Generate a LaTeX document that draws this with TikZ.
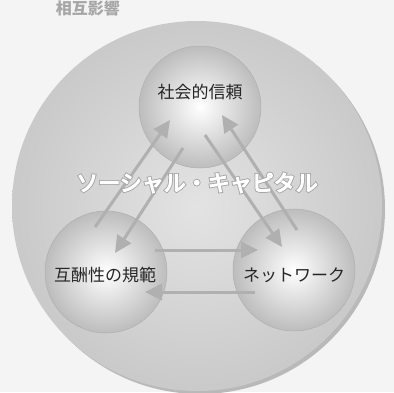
\documentclass[tikz,border=0pt]{standalone}
\usepackage{fontspec}
\setmainfont{Noto Sans CJK JP}
\newfontfamily\scoutlinefont[FakeBold=13]{Noto Sans CJK JP}
\newfontfamily\scfillfont[FakeBold=5]{Noto Sans CJK JP}
\usetikzlibrary{arrows.meta}
\begin{document}
\begin{tikzpicture}[x=1pt,y=-1pt,
  lbl/.style={font=\fontsize{17}{17}\selectfont, text=black!85, inner sep=0pt},
  sphere/.style={circle, minimum size=122pt, inner sep=0pt, shading=radial, inner color=white, outer color=gray!52, draw=gray!62, line width=0.5pt},
  arr/.style={draw=gray!62, line width=3pt, -{Triangle[length=17pt,width=16pt]}},
  titleout/.style={font=\scoutlinefont\fontsize{22}{22}\selectfont, inner sep=0pt, text=gray!70},
  titlefill/.style={font=\scfillfont\fontsize{22}{22}\selectfont, inner sep=0pt, text=white}]
\useasboundingbox (0,0) rectangle (394,392);
\clip (0,0) rectangle (394,392);
\fill[gray!9] (0,0) rectangle (394,392);
\node[font=\fontsize{16}{16}\selectfont\bfseries, text=gray!70, inner sep=0pt] (toptxt) at (88,8) {相互影響};
% big circle with shadow
\fill[gray!55] (200,209) circle (185pt);
\shade[inner color=gray!22, outer color=gray!42] (197,206) circle (185pt);
% spheres
\node[sphere] (trust) at (200,107) {};
\node[sphere] (norm) at (106,272) {};
\node[sphere] (net) at (294,270) {};
\node[lbl] (trustT) at (200,92) {社会的信頼};
\node[lbl] (normT) at (105,275) {互酬性の規範};
\node[lbl] (netT) at (294,275) {ネットワーク};
% arrows
\coordinate (a1s) at (95,227);  \coordinate (a1e) at (170,120);
\coordinate (a2s) at (183,148); \coordinate (a2e) at (115,253);
\coordinate (a3s) at (205,135); \coordinate (a3e) at (282,247);
\coordinate (a4s) at (297,230); \coordinate (a4e) at (222,115);
\coordinate (a5s) at (155,250); \coordinate (a5e) at (258,250);
\coordinate (a6s) at (255,292); \coordinate (a6e) at (145,292);
\draw[arr] (a1s) -- (a1e);
\draw[arr] (a2s) -- (a2e);
\draw[arr] (a3s) -- (a3e);
\draw[arr] (a4s) -- (a4e);
\draw[arr] (a5s) -- (a5e);
\draw[arr] (a6s) -- (a6e);
% outlined title
\node[titleout] (scout) at (197,183) {ソーシャル・キャピタル};
\node[titlefill] (sc) at (197,183) {ソーシャル・キャピタル};
\end{tikzpicture}
\end{document}
